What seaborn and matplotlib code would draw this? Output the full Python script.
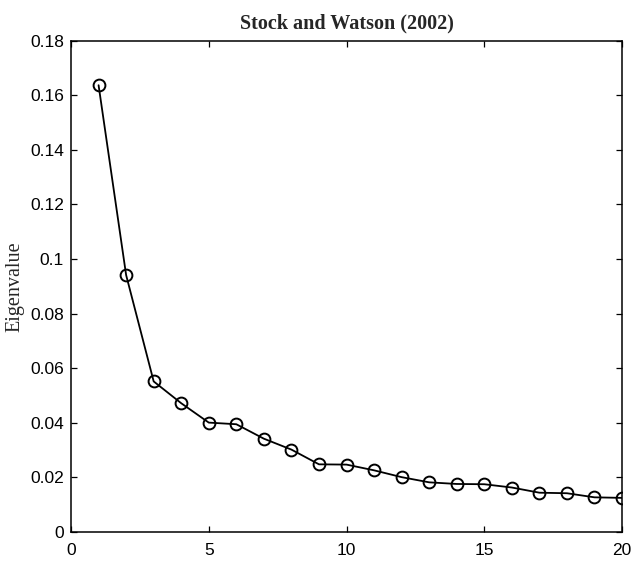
import matplotlib
matplotlib.use("Agg")
import matplotlib.pyplot as plt
import seaborn as sns
import pandas as pd

# Eigenvalues of the first 20 principal components
component = list(range(1, 21))
eigenvalue = [0.1637, 0.0941, 0.0551, 0.0471, 0.0400, 0.0394, 0.0341, 0.0301,
              0.0247, 0.0246, 0.0225, 0.0200, 0.0181, 0.0175, 0.0174, 0.0162,
              0.0143, 0.0141, 0.0126, 0.0124]
x_ticks = [0, 5, 10, 15, 20]
y_ticks = [0, 0.02, 0.04, 0.06, 0.08, 0.1, 0.12, 0.14, 0.16, 0.18]
y_tick_labels = ["0", "0.02", "0.04", "0.06", "0.08", "0.1", "0.12", "0.14", "0.16", "0.18"]

df = pd.DataFrame({"component": component, "eigenvalue": eigenvalue})

sns.set_style("ticks")
plt.rcParams["font.family"] = ["Liberation Sans", "DejaVu Sans"]

fig = plt.figure(figsize=(6.37, 5.63), dpi=100)
ax = fig.add_axes([0.1115, 0.0556, 0.865, 0.872])

sns.lineplot(data=df, x="component", y="eigenvalue", ax=ax, color="black",
             linewidth=1.3, marker="o", markersize=8.5, markerfacecolor="none",
             markeredgecolor="black", markeredgewidth=1.4)

ax.set_xlim(0, 20)
ax.set_ylim(0, 0.18)
ax.set_xticks(x_ticks)
ax.set_yticks(y_ticks)
ax.set_yticklabels(y_tick_labels)
ax.tick_params(direction="in", length=4.5, width=0.9, top=True, right=True,
               labelsize=12.5, colors="black")
ax.tick_params(axis="x", pad=8)
ax.tick_params(axis="y", pad=5)
for side in ["top", "bottom", "left", "right"]:
    ax.spines[side].set_visible(True)
    ax.spines[side].set_color("black")
    ax.spines[side].set_linewidth(1.1)

ax.set_xlabel("")
ax.set_ylabel("Eigenvalue", family=["Liberation Serif", "DejaVu Serif"],
              fontsize=14.5, labelpad=4)
ax.set_title("Stock and Watson (2002)", family=["Liberation Serif", "DejaVu Serif"],
             fontsize=14.5, fontweight="bold", pad=9)

fig.savefig("out.png", dpi=100)
